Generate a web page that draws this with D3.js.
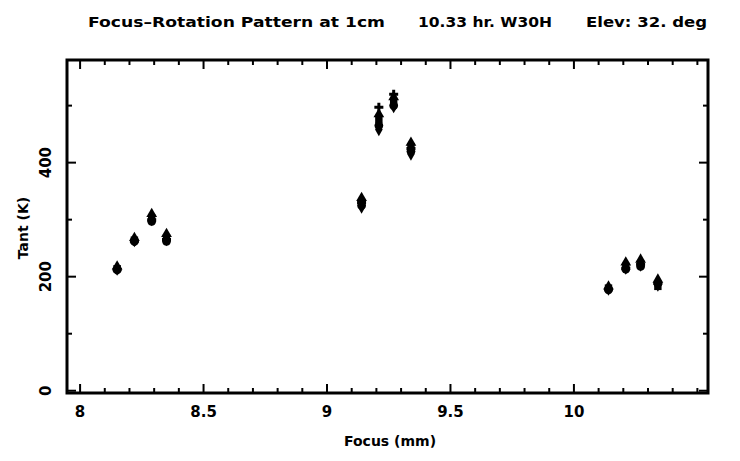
<!DOCTYPE html>
<html>
<head>
<meta charset="utf-8">
<script src="https://cdn.jsdelivr.net/npm/d3@7"></script>
<style>
  body { margin: 0; background: #fff; }
  text { font-family: "DejaVu Sans", sans-serif; font-weight: bold; fill: #000; }
</style>
</head>
<body>
<div id="chart"></div>
<script>
// focus positions (mm) of each measurement
var focus = [8.15, 8.22, 8.29, 8.35, 9.14, 9.21, 9.27, 9.34, 10.14, 10.21, 10.27, 10.34];

// antenna temperature (K) for each rotation setting, one marker each
var rotTriangle = [218, 268, 310, 275, 338, 485, 515, 435, 183, 225, 230, 195];
var rotSquare   = [214, 264, 303, 268, 330, 475, 505, 428, 180, 218, 223, 183];
var rotCircle   = [212, 262, 297, 262, 325, 465, 500, 420, 177, 213, 218, 188];
var rotDiamond  = [213, 263, 300, 265, 322, 458, 498, 415, 178, 215, 220, 185];
var rotPlus     = [212, 262, 300, 265, 330, 497, 520, 425, 178, 215, 222, 188];

var xMajor = [8, 8.5, 9, 9.5, 10];
var xMajorLabels = ["8", "8.5", "9", "9.5", "10"];
var yMajor = [0, 200, 400];
var yMajorLabels = ["0", "200", "400"];

var svgWidth = 740;
var svgHeight = 461;
var frame = { left: 67, right: 708, top: 60, bottom: 393 };

var svg = d3.select("#chart")
    .append("svg")
    .attr("width", svgWidth)
    .attr("height", svgHeight);

var x = d3.scaleLinear().domain([7.947, 10.543]).range([frame.left, frame.right]);
var y = d3.scaleLinear().domain([-4, 580]).range([frame.bottom, frame.top]);

// minor tick values
var xMinor = d3.range(80, 106).map(d => d / 10).filter(d => xMajor.indexOf(d) < 0);
var yMinor = [100, 300, 500];

// ticks on all four sides, pointing inward
var ticks = svg.append("g").attr("stroke", "#000").attr("stroke-width", 2);

function xTicks(vals, len) {
    vals.forEach(function(v) {
        ticks.append("line").attr("x1", x(v)).attr("x2", x(v))
            .attr("y1", frame.bottom).attr("y2", frame.bottom - len);
        ticks.append("line").attr("x1", x(v)).attr("x2", x(v))
            .attr("y1", frame.top).attr("y2", frame.top + len);
    });
}
function yTicks(vals, len) {
    vals.forEach(function(v) {
        ticks.append("line").attr("y1", y(v)).attr("y2", y(v))
            .attr("x1", frame.left).attr("x2", frame.left + len);
        ticks.append("line").attr("y1", y(v)).attr("y2", y(v))
            .attr("x1", frame.right).attr("x2", frame.right - len);
    });
}
xTicks(xMajor, 9);
xTicks(xMinor, 5);
yTicks(yMajor, 9);
yTicks(yMinor, 5);

// frame
svg.append("rect")
    .attr("x", frame.left)
    .attr("y", frame.top)
    .attr("width", frame.right - frame.left)
    .attr("height", frame.bottom - frame.top)
    .attr("fill", "none")
    .attr("stroke", "#000")
    .attr("stroke-width", 3);

// x tick labels
svg.selectAll(".xlab")
    .data(xMajor)
    .enter()
    .append("text")
    .attr("x", d => x(d))
    .attr("y", 417)
    .attr("text-anchor", "middle")
    .style("font-size", "15px")
    .text((d, i) => xMajorLabels[i]);

// y tick labels (rotated)
svg.selectAll(".ylab")
    .data(yMajor)
    .enter()
    .append("text")
    .attr("transform", d => `translate(51, ${y(d)}) rotate(-90)`)
    .attr("text-anchor", "middle")
    .style("font-size", "15px")
    .text((d, i) => yMajorLabels[i]);

// axis titles
svg.append("text")
    .attr("x", 390)
    .attr("y", 446)
    .attr("text-anchor", "middle")
    .style("font-size", "14px")
    .text("Focus (mm)");

svg.append("text")
    .attr("transform", "translate(28, 228) rotate(-90)")
    .attr("text-anchor", "middle")
    .style("font-size", "14px")
    .text("Tant (K)");

// title in three pieces
var titleParts = [
    { text: "Focus\u2013Rotation Pattern at 1cm", x: 88, w: 297 },
    { text: "10.33 hr. W30H", x: 418, w: 134 },
    { text: "Elev: 32. deg", x: 586, w: 121 }
];
svg.selectAll(".title")
    .data(titleParts)
    .enter()
    .append("text")
    .attr("x", d => d.x)
    .attr("y", 27)
    .attr("textLength", d => d.w)
    .attr("lengthAdjust", "spacingAndGlyphs")
    .style("font-size", "14px")
    .text(d => d.text);

// markers
var series = [
    { values: rotDiamond, type: d3.symbolDiamond, size: 50 },
    { values: rotCircle, type: d3.symbolCircle, size: 60 },
    { values: rotSquare, type: d3.symbolSquare, size: 55 },
    { values: rotTriangle, type: d3.symbolTriangle, size: 50 },
    { values: rotPlus, type: d3.symbolCross, size: 45 }
];

series.forEach(function(s) {
    svg.append("g").selectAll("path")
        .data(s.values)
        .enter()
        .append("path")
        .attr("transform", (d, i) => `translate(${x(focus[i])}, ${y(d)})`)
        .attr("d", d3.symbol().type(s.type).size(s.size))
        .attr("fill", "#000");
});
</script>
</body>
</html>
